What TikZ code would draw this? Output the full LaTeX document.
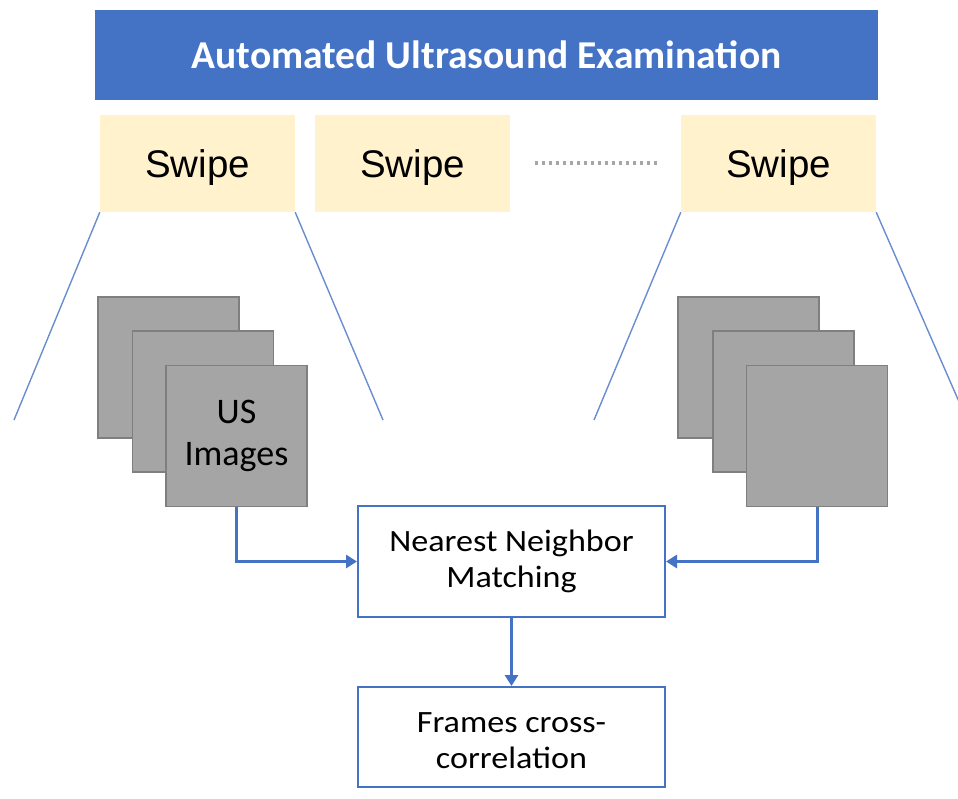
\documentclass[tikz,border=0pt]{standalone}
\usepackage{fontspec}
\setmainfont{Carlito}
\newfontfamily\arialfont{Liberation Sans}
\newfontfamily\widefont[FakeStretch=1.1]{Carlito}
\usetikzlibrary{arrows.meta}
\definecolor{bannerblue}{HTML}{4472C4}
\definecolor{swipefill}{HTML}{FFF2CC}
\definecolor{imgfill}{HTML}{A5A5A5}
\definecolor{imgdraw}{HTML}{7F7F7F}
\tikzset{
  banner/.style={fill=bannerblue, draw=none, minimum width=783pt, minimum height=90pt, inner sep=0pt,
    text=white, text depth=0pt, font=\bfseries\fontsize{39.5}{44}\selectfont},
  swipebox/.style={fill=swipefill, draw=none, minimum width=195pt, minimum height=97pt, inner sep=0pt,
    text depth=0pt, font=\arialfont\fontsize{38.5}{44}\selectfont},
  imgbox/.style={fill=imgfill, draw=imgdraw, line width=1.5pt, minimum width=141pt, minimum height=141pt,
    inner sep=0pt, align=center, font=\fontsize{36}{42}\selectfont},
  procbox/.style={fill=white, draw=bannerblue, line width=2pt, minimum width=307pt,
    inner sep=0pt, align=center, font=\widefont\fontsize{31}{36}\selectfont},
  fanline/.style={draw=bannerblue!80!white, line width=1.4pt},
  conn/.style={draw=bannerblue, line width=3pt, -{Triangle[length=11pt,width=13pt]}},
}
\begin{document}
\begin{tikzpicture}[x=1pt,y=-1pt]
\useasboundingbox (0,0) rectangle (958,798);
\clip (0,0) rectangle (958,798);
% banner
\node[banner] (ban) at (486.5,55) {Automated Ultrasound Examination};
% swipes
\node[swipebox] (s1) at (197.5,163.5) {Swipe};
\node[swipebox] (s2) at (412.5,163.5) {Swipe};
\node[swipebox] (s3) at (778.5,163.5) {Swipe};
\coordinate (d1) at (535,163);
\coordinate (d2) at (658,163);
\draw[draw=gray!70, line width=4pt, dash pattern=on 3pt off 4pt] (d1) -- (d2);
% fan lines
\coordinate (f1) at (14,420);
\coordinate (f2) at (383,420);
\coordinate (f3) at (594,420);
\coordinate (f4) at (967,420);
\draw[fanline] (s1.south west) -- (f1);
\draw[fanline] (s1.south east) -- (f2);
\draw[fanline] (s3.south west) -- (f3);
\draw[fanline] (s3.south east) -- (f4);
% image stack left
\node[imgbox] (a1) at (168.5,367.5) {};
\node[imgbox] (a2) at (203,401.5) {};
\node[imgbox] (a3) at (236.5,436) {US\\Images};
% image stack right
\node[imgbox] (b1) at (748.5,367.5) {};
\node[imgbox] (b2) at (783.5,401.5) {};
\node[imgbox] (b3) at (817,436) {};
% process boxes
\node[procbox, minimum height=111pt] (nn) at (511.5,561.5) {Nearest Neighbor\\Matching};
\node[procbox, minimum height=100pt, text height=62pt, text depth=0pt] (fc) at (511.5,737) {Frames cross-\\correlation};
% connectors
\draw[conn] (a3.south) |- (nn.west);
\draw[conn] (b3.south) |- (nn.east);
\draw[conn] (nn.south) -- (fc.north);
\end{tikzpicture}
\end{document}
